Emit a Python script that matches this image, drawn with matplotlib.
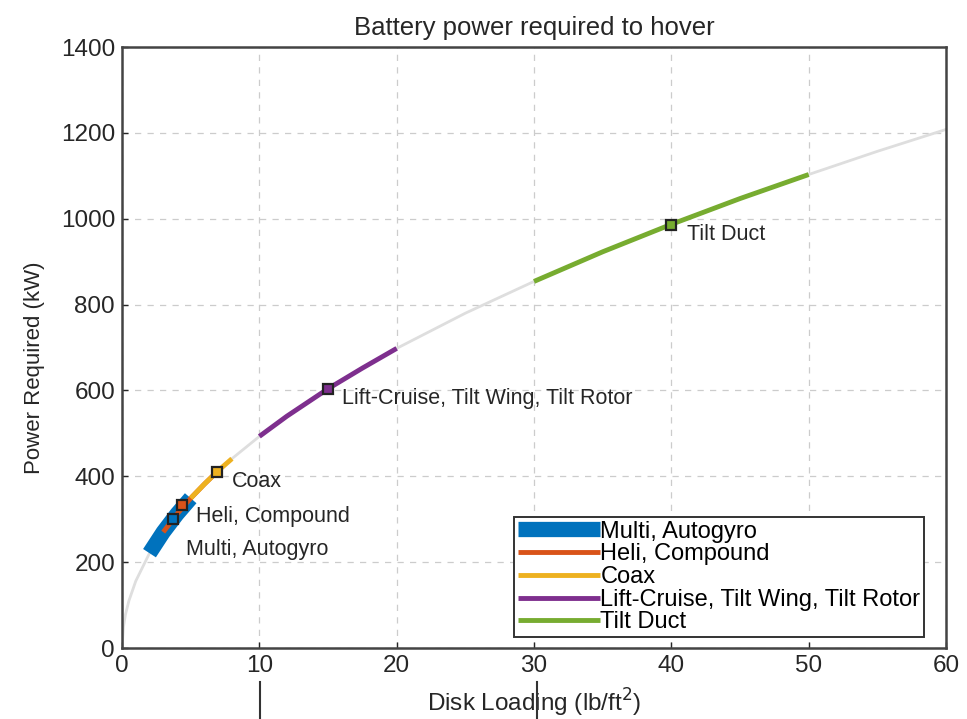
import numpy as np
import matplotlib.pyplot as plt
from matplotlib.lines import Line2D

plt.rcParams["font.family"] = ["Liberation Sans", "DejaVu Sans"]

# hover power curve, sampled along disk loading
disk_loading = [0, 0.1, 0.25, 0.5, 1, 2, 3, 4, 5, 6, 7, 8, 10, 12, 15, 17.5, 20,
                25, 30, 35, 40, 45, 50, 55, 60]
power_kw = [0, 49, 78, 110, 156, 221, 270, 312, 349, 382, 413, 441, 493, 540,
            604, 652, 698, 780, 854, 923, 987, 1047, 1103, 1157, 1208]

# configuration ranges (disk loading bounds) and design points
configs = ["Multi, Autogyro", "Heli, Compound", "Coax",
           "Lift-Cruise, Tilt Wing, Tilt Rotor", "Tilt Duct"]
range_lo = [2, 3, 5, 10, 30]
range_hi = [5, 6.5, 8, 20, 50]
point_dl = [3.7, 4.4, 6.9, 15, 40]
point_kw = [300, 333, 410, 603, 985]

colors = ["#0072BD", "#D95319", "#EDB120", "#7E2F8E", "#77AC30"]
widths = [11, 3.5, 3.5, 3.5, 3.5]
label_offsets = [(9.5, -22), (9.5, -8), (11, -6.5), (10, -6.5), (11.5, -7)]

fig = plt.figure(figsize=(9.67, 7.19), dpi=100)
ax = fig.add_axes([0.1262, 0.0987, 0.8521, 0.8359])

dl = np.array(disk_loading)
pw = np.array(power_kw)
ax.plot(dl, pw, color="#dedede", linewidth=2, zorder=2)

handles = []
for name, lo, hi, c, w in zip(configs, range_lo, range_hi, colors, widths):
    m = (dl >= lo) & (dl <= hi)
    if hi not in disk_loading:
        m = (dl >= lo) & (dl <= hi + 0.5)
    line, = ax.plot(dl[m], pw[m], color=c, linewidth=w, solid_capstyle="butt",
                    label=name, zorder=3)
    handles.append(line)

for x, y, c, name, off in zip(point_dl, point_kw, colors, configs, label_offsets):
    ax.plot(x, y, marker="s", markersize=7, markerfacecolor=c,
            markeredgecolor="#222222", markeredgewidth=1.6, zorder=4)
    ax.annotate(name, (x, y), xytext=off, textcoords="offset points",
                fontsize=15.5, color="#262626", va="center", ha="left")

ax.set_xlim(0, 60)
ax.set_ylim(0, 1400)
ax.set_xticks(range(0, 61, 10))
ax.set_yticks(range(0, 1401, 200))
ax.grid(True, linestyle=(0, (5, 5)), color="#cccccc", linewidth=0.9)
ax.set_axisbelow(True)
ax.tick_params(direction="in", length=4, labelsize=17.5, colors="#262626",
               width=1, pad=5)
for s in ax.spines.values():
    s.set_color("#444444")
    s.set_linewidth(1.8)

ax.set_title("Battery power required to hover", fontsize=18.5, color="#262626",
             pad=9)
ax.set_xlabel("Disk Loading (lb/ft$^2$)", fontsize=17.5, color="#262626",
              labelpad=7)
ax.set_ylabel("Power Required (kW)", fontsize=16, color="#262626")
ax.yaxis.set_label_coords(-0.093, 0.466)

leg = ax.legend(handles=handles, loc="lower right",
                bbox_to_anchor=(0.9733, 0.0183), borderaxespad=0,
                fontsize=17, handlelength=3.5, handletextpad=0.0,
                labelspacing=0.03, borderpad=0.15, fancybox=False,
                framealpha=1)
leg.get_frame().set_edgecolor("#333333")
leg.get_frame().set_linewidth(1.4)

# stray tick marks below the x axis label
fig.add_artist(Line2D([0.269, 0.269], [0.0, 0.052], color="#333333", lw=1.5))
fig.add_artist(Line2D([0.555, 0.555], [0.0, 0.052], color="#333333", lw=1.5))

fig.savefig("out.png", dpi=100)
